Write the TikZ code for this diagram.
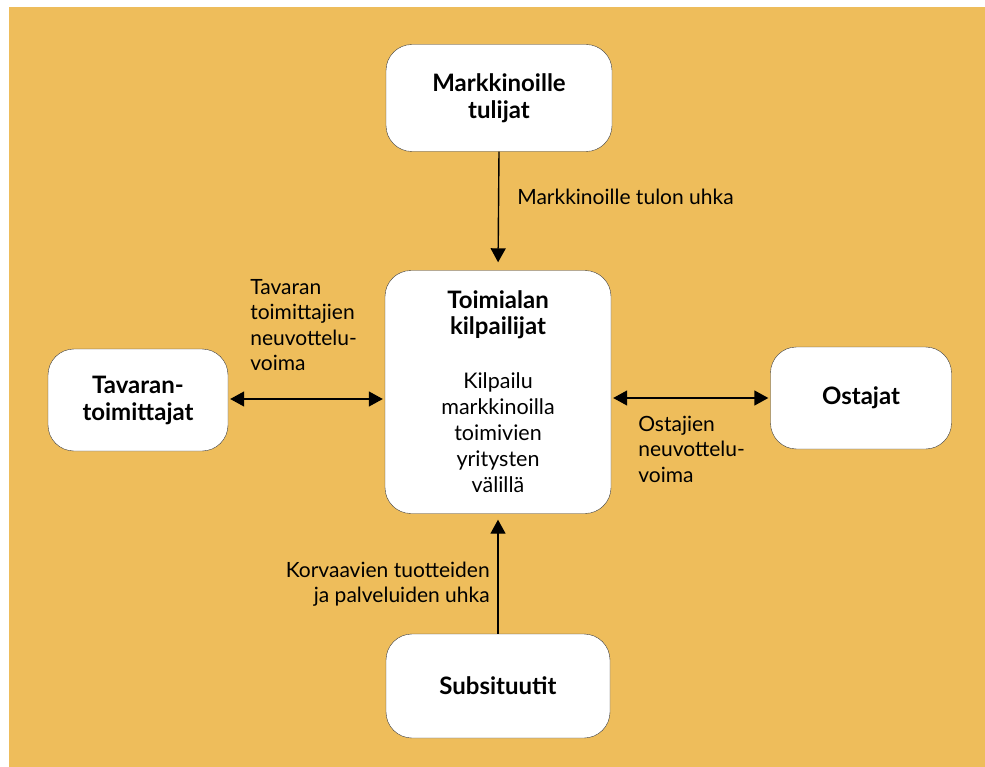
\documentclass[tikz,border=0pt]{standalone}
\usepackage{fontspec}
\setmainfont{Lato}
\usepackage{tikz}
\usetikzlibrary{arrows.meta}
\definecolor{bg_orange}{RGB}{238,189,91}
\definecolor{box_gray}{RGB}{60,60,60}
\newcommand{\boxtitle}[1]{{\fontsize{24}{27}\selectfont\bfseries #1}}

\begin{document}
\begin{tikzpicture}[x=1pt,y=-1pt,semithick,>={Triangle[width=15pt,length=14pt]}]
    \tikzstyle{box}=[draw=box_gray, thin, fill=white, rounded corners=26pt, align=center,
                     font=\fontsize{21.5}{26}\selectfont, text=black]
    \tikzstyle{title}=[font=\fontsize{24}{27}\selectfont\bfseries]
    \tikzstyle{lbl}=[inner sep=0pt, font=\fontsize{21}{25.5}\selectfont, text=black]
    \tikzstyle{link}=[line width=1.4pt, <->]

    \useasboundingbox (0,0) rectangle (985,767);
    \fill[bg_orange] (9,7) rectangle (985,767);

    \node[box, title, minimum width=226pt, minimum height=107pt] (entrants) at (499,98)  {Markkinoille\\tulijat};
    \node[box, minimum width=226pt, minimum height=243pt] (rivals)   at (498,392)
        {\boxtitle{Toimialan}\\\boxtitle{kilpailijat}\\[28pt]Kilpailu\\markkinoilla\\toimivien\\yritysten\\välillä};
    \node[box, title, minimum width=180pt, minimum height=102pt] (suppliers) at (138,400) {Tavaran-\\toimittajat};
    \node[box, title, minimum width=181pt, minimum height=102pt] (buyers)    at (861,398) {Ostajat};
    \node[box, title, minimum width=224pt, minimum height=104pt] (substitutes) at (498,686) {Subsituutit};

    \node[lbl, anchor=west] (l_entry) at (517,197) {Markkinoille tulon uhka};
    \node[lbl, anchor=west, align=left] (l_supp) at (250,325) {Tavaran\\toimittajien\\neuvottelu-\\voima};
    \node[lbl, anchor=west, align=left] (l_buy) at (638,449) {Ostajien\\neuvottelu-\\voima};
    \node[lbl, anchor=east, align=right] (l_subst) at (490,584) {Korvaavien tuotteiden\\ja palveluiden uhka};

    \path
     (entrants.south) edge[line width=1.4pt, ->, shorten >=8pt] (rivals.north)
     (substitutes.north) edge[line width=1.4pt, ->, shorten >=6pt] (rivals.south)
     (suppliers.east |- 0,399) edge[link, shorten <=2pt, shorten >=2pt] (rivals.west |- 0,399)
     (rivals.east |- 0,398) edge[link, shorten <=2pt, shorten >=2pt] (buyers.west |- 0,398)
     ;
\end{tikzpicture}
\end{document}
